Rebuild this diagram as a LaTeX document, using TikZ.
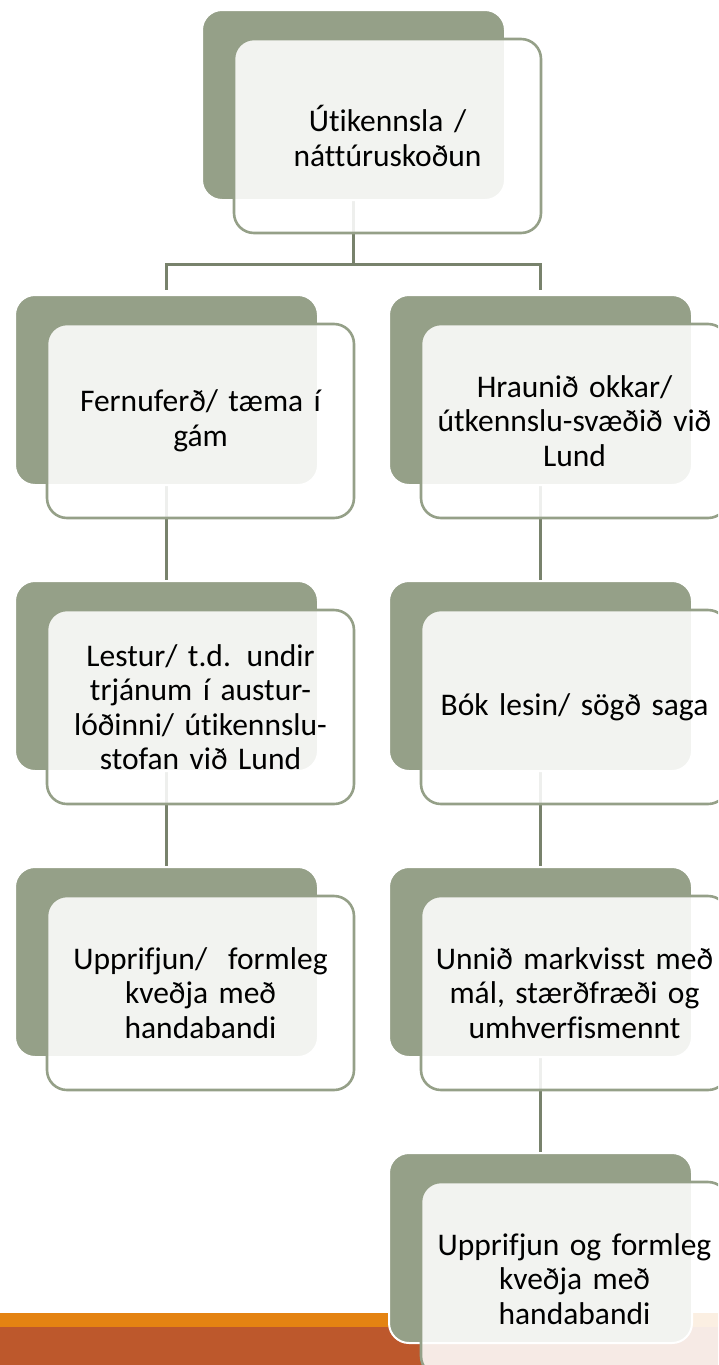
\documentclass[tikz,border=0pt]{standalone}
\usepackage{fontspec}
\setmainfont{Carlito}[Ligatures=NoCommon]
\definecolor{SageGreen}{RGB}{149, 160, 136}
\definecolor{LinkGreen}{RGB}{120, 130, 108}
\definecolor{BarOrange}{RGB}{228, 131, 18}
\definecolor{BarRust}{RGB}{189, 88, 44}
\usetikzlibrary{positioning, backgrounds}

\begin{document}
\begin{tikzpicture}[x=1pt, y=1pt,
        node distance=94pt,
        darkbox/.style={rectangle, rounded corners=20pt, fill=SageGreen, draw=white, line width=2pt, minimum width=303pt, minimum height=190pt},
        frontbox/.style={rectangle, rounded corners=20pt, fill=white, fill opacity=0.88, text opacity=1, draw=SageGreen, line width=2.6pt, minimum width=307pt, minimum height=194pt, text width=300pt, inner sep=2pt, align=center, font=\fontsize{31.5}{34.5}\selectfont},
        link/.style={draw=LinkGreen, line width=3pt}
    ]
        \useasboundingbox (0,0) rectangle (718,-1365);
        \clip (0,0) rectangle (718,-1365);

        \node[darkbox] (d1) at (353.5,-105) {};
        \node[frontbox] (f1) at ([shift={(34,-31)}]d1) {Útikennsla /\\ náttúruskoðun};

        \node[darkbox, below=93pt of d1, xshift=-187pt] (d2l) {};
        \node[frontbox] (f2l) at ([shift={(34,-31)}]d2l) {Fernuferð/ tæma í\\ gám};
        \node[darkbox, below=93pt of d1, xshift=187pt] (d2r) {};
        \node[frontbox] (f2r) at ([shift={(34,-31)}]d2r) {Hraunið okkar/\\ útkennslu-svæðið við\\ Lund};

        \node[darkbox, below=of d2l] (d3l) {};
        \node[frontbox] (f3l) at ([shift={(34,-31)}]d3l) {Lestur/ t.d. undir\\ trjánum í austur-\\ lóðinni/ útikennslu-\\ stofan við Lund};
        \node[darkbox, below=of d2r] (d3r) {};
        \node[frontbox] (f3r) at ([shift={(34,-31)}]d3r) {Bók lesin/ sögð saga};

        \node[darkbox, below=of d3l] (d4l) {};
        \node[frontbox] (f4l) at ([shift={(34,-31)}]d4l) {Upprifjun/ \ formleg\\ kveðja með\\ handabandi};
        \node[darkbox, below=of d3r] (d4r) {};
        \node[frontbox] (f4r) at ([shift={(34,-31)}]d4r) {Unnið markvisst með\\ mál, stærðfræði og\\ umhverfismennt};

        \node[darkbox, below=of d4r] (d5r) {};
        \node[frontbox] (f5r) at ([shift={(34,-31)}]d5r) {Upprifjun og formleg\\ kveðja með\\ handabandi};

        \begin{scope}[on background layer]
            \fill[BarOrange] (0,-1313) rectangle (718,-1327);
            \fill[BarRust] (0,-1327) rectangle (718,-1365);
            \coordinate (split) at ([yshift=-63pt]d1.south);
            \draw[link] (d1.south) -- (split) -| ([yshift=4pt]d2l.north);
            \draw[link] (split) -| ([yshift=4pt]d2r.north);
            \draw[link] (d2l) -- (d3l);
            \draw[link] (d3l) -- (d4l);
            \draw[link] (d2r) -- (d3r);
            \draw[link] (d3r) -- (d4r);
            \draw[link] (d4r) -- (d5r);
        \end{scope}
    \end{tikzpicture}
\end{document}
